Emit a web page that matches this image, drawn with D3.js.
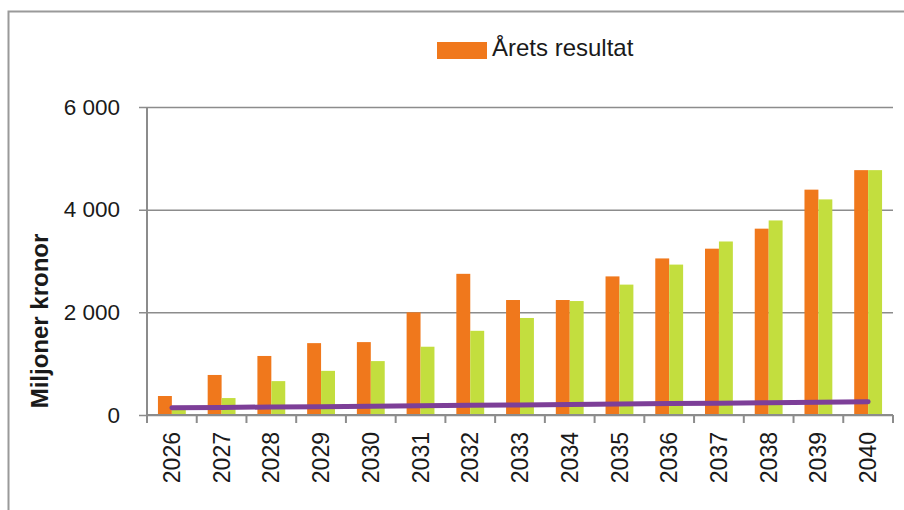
<!DOCTYPE html>
<html>
<head>
<meta charset="utf-8">
<script src="https://cdn.jsdelivr.net/npm/d3@7"></script>
<style>
  body { margin: 0; background: #fff; }
  svg { font-family: "Liberation Sans", Arial, sans-serif; }
</style>
</head>
<body>
<div id="chart"></div>
<script>
// chart data
var years = ['2026', '2027', '2028', '2029', '2030', '2031', '2032', '2033',
  '2034', '2035', '2036', '2037', '2038', '2039', '2040'];
var aretsResultat = [370, 780, 1150, 1400, 1420, 2000, 2750, 2240, 2240, 2700, 3050, 3240, 3630, 4390, 4770];
var secondSeries = [100, 330, 660, 860, 1050, 1330, 1640, 1890, 2220, 2540, 2930, 3380, 3790, 4200, 4770];
var lineSeries = [140, 148, 156, 163, 171, 180, 188, 196, 204, 213, 222, 231, 240, 250, 260];
var yTicks = [0, 2000, 4000, 6000];
var legendLabel = 'Årets resultat';
var yTitle = 'Miljoner kronor';

var width = 904, height = 510;
var plotLeft = 147, plotRight = 893, plotTop = 107, plotBottom = 415;

var svg = d3.select('#chart').append('svg')
  .attr('width', width)
  .attr('height', height);

// outer frame
svg.append('rect')
  .attr('x', 8.5).attr('y', 11.5)
  .attr('width', 1000).attr('height', 1000)
  .attr('fill', 'none')
  .attr('stroke', '#9a9a9a')
  .attr('stroke-width', 2);

var x = d3.scaleBand()
  .domain(years)
  .range([plotLeft, plotRight])
  .paddingInner(0.44)
  .paddingOuter(0.22);

var y = d3.scaleLinear()
  .domain([0, 6000])
  .range([plotBottom, plotTop]);

var fmt = function (d) { return d3.format(',')(d).replace(',', ' '); };

// y gridlines + labels
var yAxis = svg.append('g')
  .attr('transform', 'translate(' + plotLeft + ',0)')
  .call(d3.axisLeft(y).tickValues(yTicks).tickSize(-(plotRight - plotLeft)).tickPadding(27).tickFormat(fmt));
yAxis.select('.domain').remove();
yAxis.selectAll('.tick line')
  .attr('x1', -8)
  .attr('stroke', '#8c8c8c')
  .attr('stroke-width', 1.5);
yAxis.selectAll('.tick text')
  .attr('x', -27)
  .attr('font-size', 22.5)
  .attr('fill', '#1a1a1a');

// bars
var groups = svg.append('g').selectAll('g')
  .data(years)
  .enter().append('g');

var bw = x.bandwidth() / 2;

groups.append('rect')
  .attr('x', function (d) { return x(d); })
  .attr('y', function (d, i) { return y(aretsResultat[i]); })
  .attr('width', bw)
  .attr('height', function (d, i) { return y(0) - y(aretsResultat[i]); })
  .attr('fill', '#f0781c');

groups.append('rect')
  .attr('x', function (d) { return x(d) + bw; })
  .attr('y', function (d, i) { return y(secondSeries[i]); })
  .attr('width', bw)
  .attr('height', function (d, i) { return y(0) - y(secondSeries[i]); })
  .attr('fill', '#c3de3e');

// x axis
var xAxis = svg.append('g')
  .attr('transform', 'translate(0,' + plotBottom + ')')
  .call(d3.axisBottom(x).tickSize(0).tickPadding(18));
xAxis.select('.domain')
  .attr('d', 'M' + plotLeft + ',0H' + plotRight)
  .attr('stroke', '#8c8c8c')
  .attr('stroke-width', 2);
xAxis.selectAll('.tick text')
  .attr('font-size', 23)
  .attr('fill', '#1a1a1a')
  .attr('text-anchor', 'end')
  .attr('dy', '0.35em')
  .attr('transform', 'rotate(-90)')
  .attr('x', -17)
  .attr('y', 0);

// x tick marks at band boundaries
var step = x.step();
var edges = years.map(function (d) { return x(d) - x.paddingOuter() * step; });
edges.push(plotRight);
xAxis.selectAll('.edge')
  .data(edges)
  .enter().append('line')
  .attr('x1', function (d) { return d; })
  .attr('x2', function (d) { return d; })
  .attr('y1', 0).attr('y2', 8)
  .attr('stroke', '#8c8c8c')
  .attr('stroke-width', 2);

// y axis line
svg.append('line')
  .attr('x1', plotLeft).attr('x2', plotLeft)
  .attr('y1', plotTop).attr('y2', plotBottom)
  .attr('stroke', '#8c8c8c')
  .attr('stroke-width', 2);

// purple line
var line = d3.line()
  .x(function (d, i) { return x(years[i]) + x.bandwidth() / 2; })
  .y(function (d) { return y(d); });

svg.append('path')
  .datum(lineSeries)
  .attr('d', line)
  .attr('fill', 'none')
  .attr('stroke', '#7d3f98')
  .attr('stroke-width', 5)
  .attr('stroke-linecap', 'round');

// legend
svg.append('rect')
  .attr('x', 437).attr('y', 42)
  .attr('width', 50).attr('height', 17)
  .attr('fill', '#f0781c');
svg.append('text')
  .attr('x', 492).attr('y', 56)
  .attr('font-size', 24)
  .attr('fill', '#1a1a1a')
  .text(legendLabel);

// y title
svg.append('text')
  .attr('transform', 'translate(48,' + 321 + ') rotate(-90)')
  .attr('text-anchor', 'middle')
  .attr('font-size', 24)
  .attr('font-weight', 'bold')
  .attr('fill', '#1a1a1a')
  .text(yTitle);
</script>
</body>
</html>
